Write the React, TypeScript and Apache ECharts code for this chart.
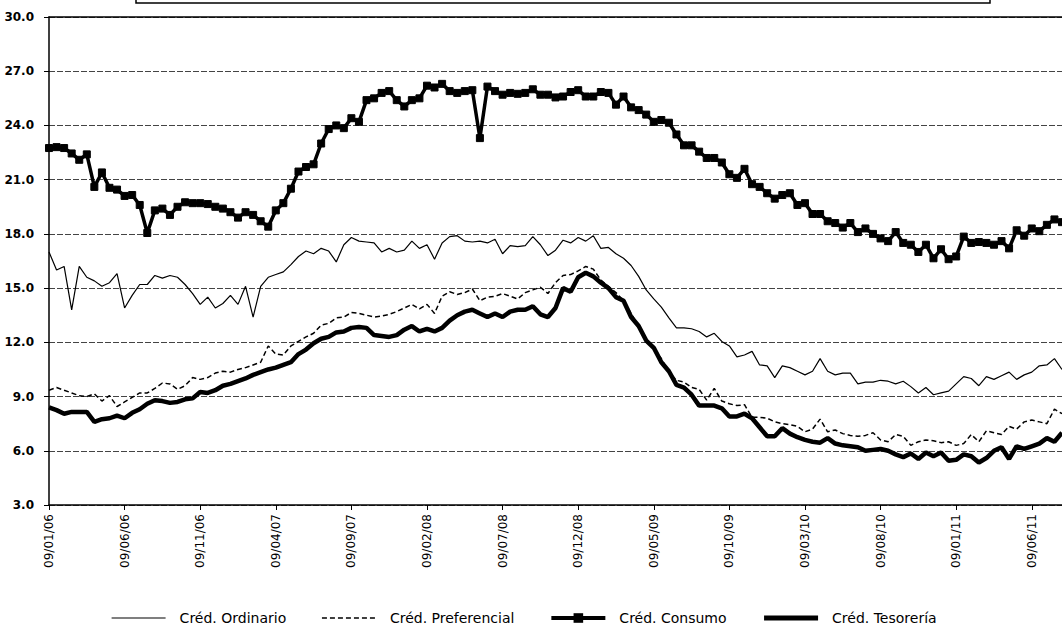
import React, { useEffect, useRef } from 'react';
import * as echarts from 'echarts';

// Tick labels shown on the x axis (every 5 months)
const tickLabels = [
  '09/01/06', '09/06/06', '09/11/06', '09/04/07', '09/09/07', '09/02/08', '09/07/08',
  '09/12/08', '09/05/09', '09/10/09', '09/03/10', '09/08/10', '09/01/11', '09/06/11',
];

// Semi-monthly observation dates (09 and 24 of each month), Jan 2006 .. Aug 2011
const pad = (n: number) => (n < 10 ? '0' + n : String(n));
const categories: string[] = Array.from({ length: 135 }, (_, i) => {
  const m = Math.floor(i / 2);
  const year = 2006 + Math.floor(m / 12);
  const month = (m % 12) + 1;
  const day = i % 2 === 0 ? '09' : '24';
  return `${day}/${pad(month)}/${String(year).slice(2)}`;
});

const seriesNames = ['Créd. Ordinario', 'Créd. Preferencial', 'Créd. Consumo', 'Créd. Tesorería'];

const ordinario = [
  17.0, 16.0, 16.2, 13.8, 16.2, 15.6, 15.4, 15.1, 15.3, 15.8,
  13.9, 14.6, 15.2, 15.2, 15.7, 15.55, 15.7, 15.6, 15.2, 14.7,
  14.1, 14.5, 13.9, 14.15, 14.6, 14.1, 15.1, 13.4, 15.1, 15.6,
  15.75, 15.9, 16.3, 16.75, 17.05, 16.9, 17.2, 17.05, 16.45, 17.4,
  17.8, 17.6, 17.55, 17.5, 17.0, 17.2, 17.0, 17.1, 17.6, 17.2,
  17.4, 16.6, 17.5, 17.85, 17.9, 17.6, 17.55, 17.6, 17.5, 17.7,
  16.9, 17.35, 17.3, 17.35, 17.85, 17.4, 16.8, 17.1, 17.65, 17.5,
  17.8, 17.6, 17.9, 17.2, 17.25, 16.9, 16.65, 16.25, 15.65, 14.9,
  14.4, 13.95, 13.35, 12.8, 12.8, 12.75, 12.6, 12.3, 12.5, 12.05,
  11.8, 11.2, 11.3, 11.5, 10.75, 10.7, 10.05, 10.7, 10.6, 10.4,
  10.2, 10.4, 11.1, 10.4, 10.2, 10.3, 10.3, 9.7, 9.8, 9.8,
  9.9, 9.85, 9.7, 9.85, 9.55, 9.2, 9.5, 9.1, 9.2, 9.3,
  9.7, 10.1, 10.0, 9.6, 10.1, 9.95, 10.15, 10.35, 9.95, 10.2,
  10.35, 10.7, 10.75, 11.1, 10.5,
];

const preferencial = [
  9.35, 9.5, 9.35, 9.2, 9.05, 9.0, 9.15, 8.75, 9.05, 8.45,
  8.7, 8.95, 9.2, 9.2, 9.45, 9.75, 9.7, 9.4, 9.6, 10.05,
  9.95, 10.05, 10.3, 10.4, 10.35, 10.5, 10.6, 10.75, 10.9, 11.8,
  11.35, 11.3, 11.8, 12.05, 12.3, 12.5, 12.95, 13.05, 13.35, 13.4,
  13.65, 13.6, 13.5, 13.4, 13.45, 13.55, 13.7, 13.9, 14.1, 13.85,
  14.1, 13.6, 14.55, 14.8, 14.65, 14.75, 14.95, 14.3, 14.5, 14.55,
  14.7, 14.55, 14.4, 14.75, 14.9, 15.05, 14.7, 15.3, 15.7, 15.75,
  15.95, 16.2, 16.05, 15.45, 15.1, 14.75, 14.3, 13.6, 12.9, 12.15,
  11.6, 11.1, 10.35, 9.9, 9.8, 9.5, 9.4, 8.8, 9.45, 8.75,
  8.6, 8.5, 8.55, 7.85, 7.85, 7.8, 7.6, 7.5, 7.45, 7.35,
  7.05, 7.2, 7.75, 7.05, 7.15, 6.95, 6.85, 6.8, 6.85, 7.0,
  6.6, 6.5, 6.9, 6.8, 6.3, 6.5, 6.6, 6.55, 6.45, 6.5,
  6.3, 6.4, 6.9, 6.5, 7.1, 7.0, 6.9, 7.35, 7.2, 7.6,
  7.7, 7.6, 7.5, 8.3, 8.05,
];

const consumo = [
  22.75, 22.8, 22.75, 22.45, 22.1, 22.4, 20.6, 21.4, 20.55, 20.45,
  20.1, 20.15, 19.6, 18.05, 19.3, 19.4, 19.05, 19.5, 19.75, 19.7,
  19.7, 19.65, 19.5, 19.4, 19.2, 18.9, 19.2, 19.05, 18.7, 18.4,
  19.3, 19.7, 20.5, 21.45, 21.7, 21.85, 23.0, 23.8, 24.0, 23.85,
  24.4, 24.2, 25.4, 25.5, 25.8, 25.9, 25.4, 25.05, 25.4, 25.5,
  26.2, 26.1, 26.3, 25.9, 25.8, 25.9, 25.95, 23.3, 26.15, 25.9,
  25.7, 25.8, 25.75, 25.8, 26.0, 25.7, 25.7, 25.55, 25.6, 25.85,
  25.95, 25.6, 25.6, 25.85, 25.8, 25.15, 25.6, 25.0, 24.85, 24.6,
  24.2, 24.3, 24.15, 23.5, 22.9, 22.9, 22.55, 22.2, 22.2, 21.95,
  21.3, 21.1, 21.6, 20.75, 20.6, 20.25, 19.95, 20.15, 20.25, 19.6,
  19.7, 19.1, 19.1, 18.7, 18.6, 18.35, 18.6, 18.1, 18.3, 18.0,
  17.75, 17.6, 18.1, 17.5, 17.4, 17.0, 17.4, 16.65, 17.15, 16.6,
  16.75, 17.85, 17.5, 17.55, 17.5, 17.4, 17.6, 17.2, 18.2, 17.9,
  18.3, 18.15, 18.5, 18.8, 18.65,
];

const tesoreria = [
  8.4, 8.25, 8.05, 8.15, 8.15, 8.15, 7.6, 7.75, 7.8, 7.95,
  7.8, 8.1, 8.3, 8.6, 8.8, 8.75, 8.65, 8.7, 8.85, 8.9,
  9.25, 9.2, 9.35, 9.6, 9.7, 9.85, 10.0, 10.2, 10.35, 10.5,
  10.6, 10.75, 10.9, 11.35, 11.6, 11.95, 12.2, 12.3, 12.55, 12.6,
  12.8, 12.85, 12.8, 12.4, 12.35, 12.3, 12.4, 12.7, 12.9, 12.6,
  12.75, 12.6, 12.8, 13.2, 13.5, 13.7, 13.8, 13.6, 13.4, 13.6,
  13.4, 13.7, 13.8, 13.8, 14.0, 13.55, 13.4, 13.9, 15.0, 14.8,
  15.6, 15.85, 15.65, 15.3, 15.0, 14.5, 14.3, 13.4, 12.9, 12.1,
  11.7, 10.9, 10.4, 9.65, 9.5, 9.1, 8.5, 8.5, 8.5, 8.35,
  7.9, 7.9, 8.05, 7.8, 7.3, 6.8, 6.8, 7.25, 6.95, 6.75,
  6.6, 6.5, 6.45, 6.7, 6.4, 6.3, 6.25, 6.2, 6.0, 6.05,
  6.1, 6.0, 5.8, 5.65, 5.85, 5.55, 5.9, 5.7, 5.9, 5.45,
  5.5, 5.8, 5.7, 5.35, 5.6, 6.0, 6.2, 5.55, 6.25, 6.1,
  6.25, 6.4, 6.7, 6.5, 7.0,
];

const FONT = "'DejaVu Sans', 'Liberation Sans', Arial, sans-serif";

export default function App() {
  const ref = useRef<HTMLDivElement>(null);

  useEffect(() => {
    if (!ref.current) return;
    const chart = echarts.init(ref.current, null, { renderer: 'svg' });
    const hidden = { opacity: 0 };
    chart.setOption({
      animation: false,
      backgroundColor: '#ffffff',
      grid: { left: 49, right: 0, top: 17, bottom: 120, containLabel: false },
      graphic: [
        {
          type: 'rect',
          shape: { x: 136, y: -12, width: 854, height: 15 },
          style: { fill: 'none', stroke: '#000', lineWidth: 1.5 },
        },
      ],
      legend: {
        left: 106,
        top: 606,
        itemWidth: 54,
        itemHeight: 12,
        itemGap: 35,
        data: [
          { name: seriesNames[0], itemStyle: hidden, lineStyle: { width: 1.2 } },
          { name: seriesNames[1], itemStyle: hidden, lineStyle: { width: 1.5 } },
          { name: seriesNames[2], lineStyle: { width: 4 } },
          { name: seriesNames[3], itemStyle: hidden, lineStyle: { width: 5 } },
        ],
        textStyle: { fontFamily: FONT, fontSize: 14, color: '#000', padding: [0, 0, 0, 9] },
      },
      xAxis: [
        {
          type: 'category',
          data: categories,
          boundaryGap: false,
          axisLine: { lineStyle: { color: '#000', width: 1.5 } },
          axisTick: { show: true, interval: 9, length: 5, lineStyle: { color: '#000' } },
          axisLabel: {
            interval: 9,
            rotate: 90,
            margin: 9,
            fontFamily: FONT,
            fontSize: 12,
            color: '#000',
            formatter: (v: string, idx: number) => (idx % 10 === 0 ? tickLabels[idx / 10] ?? v : ''),
          },
          splitLine: { show: false },
        },
        {
          type: 'category',
          data: categories,
          position: 'top',
          boundaryGap: false,
          axisLine: { show: true, lineStyle: { color: '#000', width: 1.5 } },
          axisTick: { show: false },
          axisLabel: { show: false },
          splitLine: { show: false },
        },
      ],
      yAxis: {
        type: 'value',
        min: 3,
        max: 30,
        interval: 3,
        axisLine: { show: true, lineStyle: { color: '#000', width: 1.5 } },
        axisTick: { show: true, length: 5, lineStyle: { color: '#000' } },
        axisLabel: {
          margin: 15,
          fontFamily: FONT,
          fontSize: 12,
          fontWeight: 'bold',
          color: '#000',
          formatter: (v: number) => v.toFixed(1),
        },
        splitLine: { show: true, lineStyle: { color: '#444', width: 1, type: [6, 2] } },
      },
      series: [
        {
          name: seriesNames[0],
          type: 'line',
          data: ordinario,
          symbol: 'none',
          lineStyle: { color: '#000', width: 1.2 },
          itemStyle: { color: '#000' },
        },
        {
          name: seriesNames[1],
          type: 'line',
          data: preferencial,
          symbol: 'none',
          lineStyle: { color: '#000', width: 1.5, type: [5, 3] },
          itemStyle: { color: '#000' },
        },
        {
          name: seriesNames[2],
          type: 'line',
          data: consumo,
          symbol: 'rect',
          symbolSize: 7,
          showSymbol: true,
          showAllSymbol: true,
          lineStyle: { color: '#000', width: 3.5 },
          itemStyle: { color: '#000', borderColor: '#000' },
        },
        {
          name: seriesNames[3],
          type: 'line',
          data: tesoreria,
          symbol: 'none',
          lineStyle: { color: '#000', width: 4.5 },
          itemStyle: { color: '#000' },
        },
      ],
    });
    return () => chart.dispose();
  }, []);

  return (
    <div
      ref={ref}
      style={{ position: 'fixed', left: 0, top: 0, width: 1062, height: 625, background: '#fff' }}
    />
  );
}
